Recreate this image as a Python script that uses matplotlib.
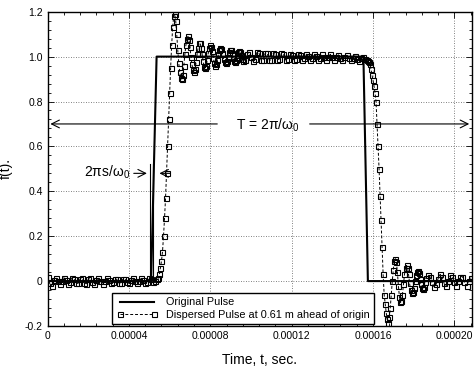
import numpy as np
import matplotlib
matplotlib.use("Agg")
import matplotlib.pyplot as plt
from matplotlib.ticker import AutoMinorLocator, FixedLocator, FixedFormatter

plt.rcParams['font.family'] = ['Liberation Sans', 'DejaVu Sans']
plt.rcParams['mathtext.fontset'] = 'custom'
plt.rcParams['mathtext.rm'] = 'Liberation Sans'
plt.rcParams['mathtext.it'] = 'Liberation Sans:italic'

# original pulse corners (microseconds)
orig_t_us = [0, 50.9, 53.6, 155.3, 157.5, 209]
orig_f = [0, 0, 1, 1, 0, 0]

# dispersed pulse in segments (start us, step us, values)
pre_start, pre_step = 0.0, 1.0
pre_vals = [0.02, -0.01, -0.02, 0.005, 0.015, 0.0, -0.015, 0.0, 0.015, 0.005,
            -0.015, -0.005, 0.015, 0.01, -0.01, -0.01, 0.01, 0.012, -0.008, -0.012,
            0.008, 0.012, -0.005, -0.012, 0.005, 0.012, 0.0, -0.012, 0.0, 0.012,
            0.004, -0.01, -0.004, 0.01, 0.008, -0.008, -0.008, 0.008, 0.01, -0.005,
            -0.01, 0.005, 0.012, 0.0, -0.01, 0.0, 0.012, 0.005, -0.008, -0.003,
            0.012, 0.01, -0.002, 0.0, 0.008]

rise_start, rise_step = 54.5, 0.5
rise_vals = [0.015, 0.03, 0.06, 0.09, 0.13, 0.20, 0.28, 0.37, 0.48, 0.60,
             0.72, 0.84, 0.95, 1.05, 1.13, 1.18, 1.19, 1.16, 1.10, 1.03,
             0.97, 0.93, 0.905, 0.90, 0.92, 0.96, 1.01, 1.05, 1.08, 1.09,
             1.075, 1.045, 1.00, 0.965, 0.94, 0.93, 0.945, 0.975, 1.01, 1.04,
             1.06, 1.06, 1.04, 1.01, 0.98, 0.955, 0.95, 0.96, 0.985, 1.015,
             1.04, 1.05, 1.045, 1.025, 0.995, 0.97, 0.96, 0.965, 0.985, 1.01,
             1.03, 1.04, 1.035, 1.015, 0.99, 0.975, 0.97, 0.98, 1.0, 1.02,
             1.03, 1.03, 1.015, 0.995, 0.98, 0.975, 0.985, 1.0, 1.02, 1.025,
             1.02, 1.005, 0.99]

flat_start, flat_step = 96.0, 1.0
flat_vals = [0.98, 0.985, 1.01, 1.02, 1.0, 0.98, 0.99, 1.02, 1.015, 0.985,
             0.985, 1.015, 1.015, 0.985, 0.985, 1.015, 1.01, 0.985, 0.99, 1.015,
             1.01, 0.985, 0.99, 1.012, 1.008, 0.986, 0.99, 1.012, 1.006, 0.986,
             0.992, 1.012, 1.004, 0.986, 0.994, 1.012, 1.002, 0.987, 0.996, 1.01,
             1.0, 0.987, 0.997, 1.01, 0.998, 0.987, 0.998, 1.008, 0.996, 0.986,
             0.998, 1.006, 0.994, 0.985, 0.996, 1.003, 0.99, 0.982, 0.992, 0.998,
             0.99, 0.985]

fall_start, fall_step = 157.5, 0.5
fall_vals = [0.98, 0.975, 0.965, 0.945, 0.92, 0.895, 0.87, 0.84, 0.80, 0.70,
             0.60, 0.50, 0.38, 0.27, 0.15, 0.03, -0.06, -0.10, -0.14, -0.17,
             -0.185, -0.16, -0.12, -0.06, 0.0, 0.05, 0.09, 0.10, 0.085, 0.04,
             -0.02, -0.07, -0.095, -0.09, -0.06, -0.015, 0.03, 0.06, 0.07, 0.06,
             0.03, -0.01, -0.04, -0.055, -0.05, -0.03, 0.0, 0.025, 0.04, 0.045,
             0.035, 0.01, -0.015, -0.03, -0.035, -0.025, -0.005, 0.015]

tail_start, tail_step = 187.0, 1.0
tail_vals = [0.025, 0.02, -0.005, -0.025, -0.015, 0.01, 0.03, 0.02, -0.01, -0.02,
             0.0, 0.025, 0.02, -0.005, -0.02, 0.0, 0.02, 0.02, -0.005, -0.02,
             0.0, 0.015]

segments = [(pre_start, pre_step, pre_vals), (rise_start, rise_step, rise_vals),
            (flat_start, flat_step, flat_vals), (fall_start, fall_step, fall_vals),
            (tail_start, tail_step, tail_vals)]
disp_t = np.concatenate([s0 + ds * np.arange(len(v)) for s0, ds, v in segments]) * 1e-6
disp_f = np.concatenate([v for _, _, v in segments])
orig_t = np.array(orig_t_us) * 1e-6

xticks = [0, 0.00004, 0.00008, 0.00012, 0.00016, 0.00020]
xlabels = ['0', '0.00004', '0.00008', '0.00012', '0.00016', '0.00020']
yticks = [-0.2, 0, 0.2, 0.4, 0.6, 0.8, 1.0, 1.2]
ylabels = ['-0.2', '0', '0.2', '0.4', '0.6', '0.8', '1.0', '1.2']

fig = plt.figure(figsize=(4.76, 3.72), dpi=100)
ax = fig.add_axes([0.100, 0.1237, 0.8916, 0.8448])

ax.plot(orig_t, orig_f, color='black', lw=1.5, label='Original Pulse', zorder=3)
ax.plot(disp_t, disp_f, color='black', lw=0.7, ls=(0, (3, 2)), marker='s', ms=3.6,
        mfc='none', mec='black', mew=0.8,
        label='Dispersed Pulse at 0.61 m ahead of origin', zorder=4)

ax.set_xlim(0, 0.0002087)
ax.set_ylim(-0.2, 1.2)
ax.xaxis.set_major_locator(FixedLocator(xticks))
ax.xaxis.set_major_formatter(FixedFormatter(xlabels))
ax.yaxis.set_major_locator(FixedLocator(yticks))
ax.yaxis.set_major_formatter(FixedFormatter(ylabels))
ax.xaxis.set_minor_locator(AutoMinorLocator(5))
ax.yaxis.set_minor_locator(AutoMinorLocator(5))
ax.tick_params(which='both', direction='in', top=True, right=True, labelsize=7.5, width=0.6)
ax.tick_params(which='major', length=4)
ax.tick_params(which='minor', length=2)
ax.grid(True, which='major', color='0.35', lw=0.6, ls=(0, (1, 2)))
for sp in ax.spines.values():
    sp.set_linewidth(1.0)

ax.set_xlabel('Time, t, sec.', fontsize=10)
ax.xaxis.set_label_coords(0.5, -0.085)
ax.set_ylabel('f(t).', fontsize=10)
ax.yaxis.set_label_coords(-0.082, 0.5)

# T = 2pi/omega0 arrows
arr = dict(arrowstyle='->', lw=0.8, color='black', mutation_scale=14)
ax.annotate('', xy=(0, 0.70), xytext=(84.8e-6, 0.70), arrowprops=arr)
ax.annotate('', xy=(208.7e-6, 0.70), xytext=(127.5e-6, 0.70), arrowprops=arr)
ax.text(108.4e-6, 0.695, r'T = 2π/ω$_0$', fontsize=10, ha='center', va='center')

# 2 pi s / omega0 marker
for xv in (50.3e-6, 52.0e-6):
    ax.plot([xv, xv], [0.01, 0.52], color='black', lw=0.8)
ax.annotate('', xy=(50.2e-6, 0.48), xytext=(41.0e-6, 0.48), arrowprops=arr)
ax.annotate('', xy=(53.6e-6, 0.48), xytext=(61.8e-6, 0.48), arrowprops=arr)
ax.text(40.5e-6, 0.485, r'2πs/ω$_0$', fontsize=10, ha='right', va='center')

leg = ax.legend(loc='lower left', bbox_to_anchor=(0.152, 0.005), fontsize=7.8,
                frameon=True, fancybox=False, edgecolor='black', framealpha=1,
                handlelength=3.8, numpoints=2, borderpad=0.4, labelspacing=0.25,
                handletextpad=0.8, borderaxespad=0)
leg.get_frame().set_linewidth(1.0)

fig.savefig('out.png', dpi=100)
